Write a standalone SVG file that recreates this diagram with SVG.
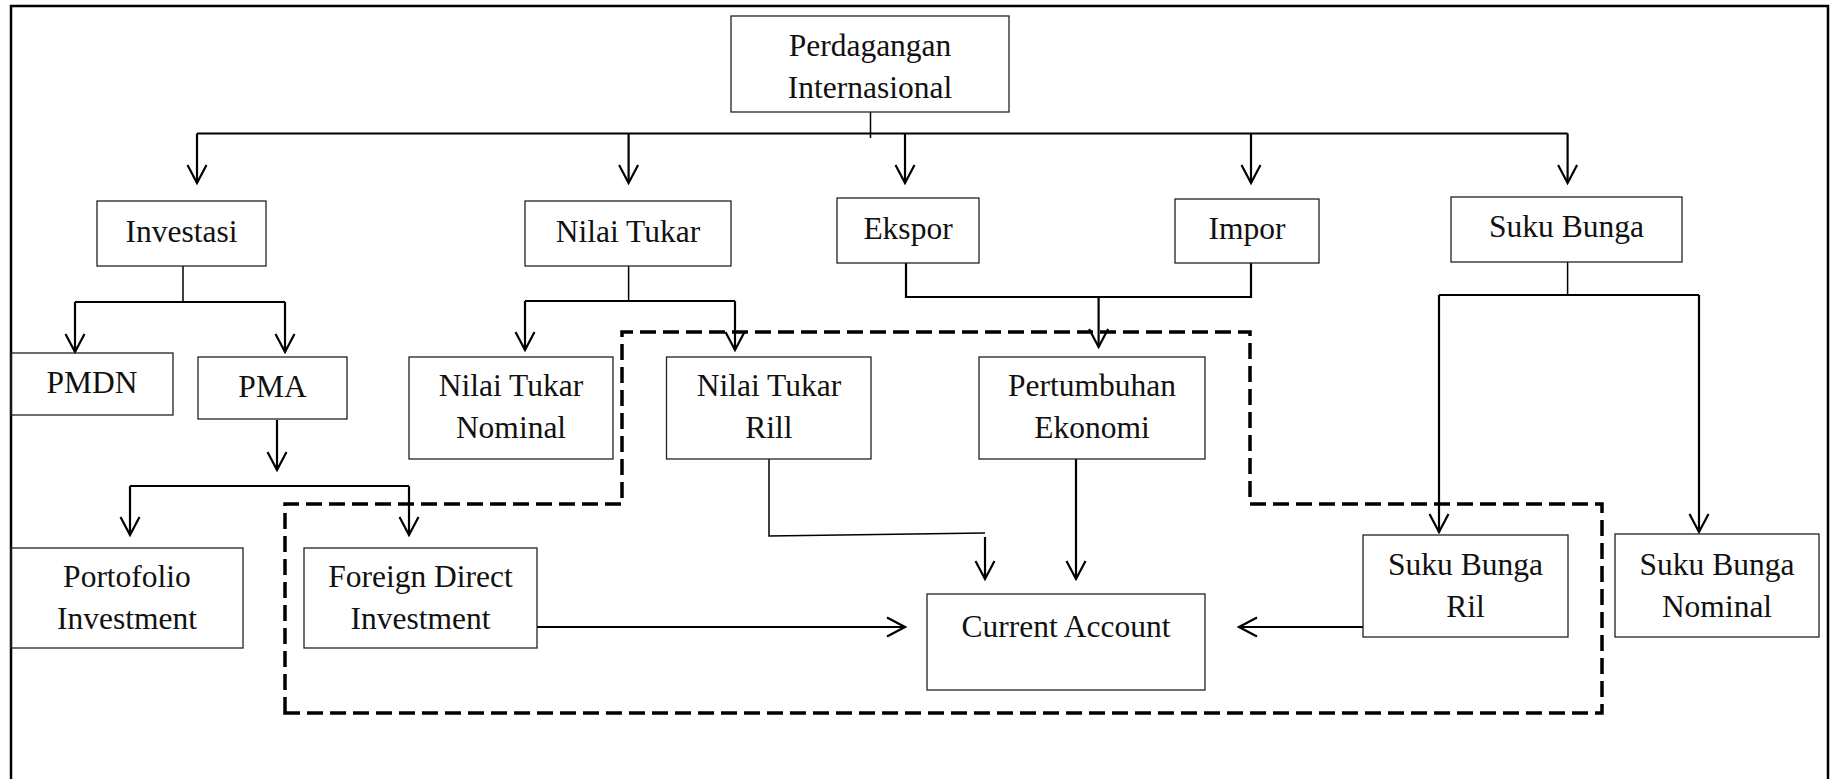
<svg xmlns="http://www.w3.org/2000/svg" width="1831" height="779" viewBox="0 0 1831 779">
<style>
  .box { fill: none; stroke: #222; stroke-width: 1.3; }
  .t { font-family: "Liberation Serif", "Times New Roman", serif; font-size: 31.5px; fill: #111; text-anchor: middle; }
  .ln { fill: none; stroke: #000; stroke-width: 2.2; }
  .thin { fill: none; stroke: #000; stroke-width: 1.5; }
  .arr { fill: none; stroke: #000; stroke-width: 2.2; marker-end: url(#ah); }
  .dash { fill: none; stroke: #000; stroke-width: 3.5; stroke-dasharray: 16 7; }
</style>
<defs>
  <marker id="ah" markerUnits="userSpaceOnUse" viewBox="-20 -11 22 22" refX="0" refY="0" markerWidth="22" markerHeight="22" orient="auto">
    <path d="M-18,-9.5 L0,0 L-18,9.5" fill="none" stroke="#000" stroke-width="2.2"/>
  </marker>
</defs>
<rect x="0" y="0" width="1831" height="779" fill="#fff"/>
<rect x="11" y="6" width="1817" height="800" fill="none" stroke="#000" stroke-width="2.5"/>

<g id="connectors">
  <!-- from Perdagangan Internasional -->
  <line class="thin" x1="870.5" y1="112" x2="870.5" y2="138"/>
  <line class="ln" x1="197" y1="133.5" x2="1567.6" y2="133.5"/>
  <line class="arr" x1="197" y1="133.5" x2="197" y2="183"/>
  <line class="arr" x1="628.6" y1="133.5" x2="628.6" y2="183"/>
  <line class="arr" x1="905" y1="133.5" x2="905" y2="183"/>
  <line class="arr" x1="1251" y1="133.5" x2="1251" y2="183"/>
  <line class="arr" x1="1567.6" y1="133.5" x2="1567.6" y2="183"/>
  <!-- Investasi -->
  <line class="thin" x1="183" y1="266" x2="183" y2="302"/>
  <line class="ln" x1="75" y1="302" x2="285" y2="302"/>
  <line class="arr" x1="75" y1="302" x2="75" y2="352"/>
  <line class="arr" x1="285" y1="302" x2="285" y2="352"/>
  <!-- PMA -->
  <line class="arr" x1="277" y1="420" x2="277" y2="470"/>
  <line class="ln" x1="130" y1="486" x2="409" y2="486"/>
  <line class="arr" x1="130" y1="486" x2="130" y2="535"/>
  <line class="arr" x1="409" y1="486" x2="409" y2="535"/>
  <!-- Nilai Tukar -->
  <line class="thin" x1="628.6" y1="266" x2="628.6" y2="301"/>
  <line class="ln" x1="525" y1="301" x2="735" y2="301"/>
  <line class="arr" x1="525" y1="301" x2="525" y2="350"/>
  <line class="arr" x1="735" y1="301" x2="735" y2="350"/>
  <!-- Ekspor / Impor -->
  <polyline class="ln" points="906,263 906,297 1251,297 1251,263"/>
  <line class="arr" x1="1098.6" y1="297" x2="1098.6" y2="347"/>
  <!-- Suku Bunga -->
  <line class="thin" x1="1567.6" y1="262" x2="1567.6" y2="295"/>
  <line class="ln" x1="1439" y1="295" x2="1699" y2="295"/>
  <line class="arr" x1="1439" y1="295" x2="1439" y2="532"/>
  <line class="arr" x1="1699" y1="295" x2="1699" y2="532"/>
  <!-- to Current Account -->
  <polyline class="thin" points="769,459 769,536 985,533"/>
  <line class="arr" x1="985" y1="537" x2="985" y2="579"/>
  <line class="arr" x1="1076" y1="459" x2="1076" y2="579"/>
  <line class="arr" x1="537" y1="627" x2="905" y2="627"/>
  <line class="arr" x1="1363" y1="627" x2="1239" y2="627"/>
  <!-- dashed boundary -->
  <path class="dash" d="M285,713 L285,504 L622,504 L622,332 L1250,332 L1250,504 L1602,504 L1602,713 Z"/>
</g>

<g id="n-perdagangan">
  <rect class="box" x="731" y="16" width="278" height="96"/>
  <text class="t" x="870" y="56">Perdagangan</text>
  <text class="t" x="870" y="98">Internasional</text>
</g>
<g id="n-investasi">
  <rect class="box" x="97" y="201" width="169" height="65"/>
  <text class="t" x="181.5" y="242">Investasi</text>
</g>
<g id="n-nilaitukar">
  <rect class="box" x="525" y="201" width="206" height="65"/>
  <text class="t" x="628" y="242">Nilai Tukar</text>
</g>
<g id="n-ekspor">
  <rect class="box" x="837" y="198" width="142" height="65"/>
  <text class="t" x="908" y="239">Ekspor</text>
</g>
<g id="n-impor">
  <rect class="box" x="1175" y="199" width="144" height="64"/>
  <text class="t" x="1247" y="239">Impor</text>
</g>
<g id="n-sukubunga">
  <rect class="box" x="1451" y="197" width="231" height="65"/>
  <text class="t" x="1566.5" y="237">Suku Bunga</text>
</g>
<g id="n-pmdn">
  <rect class="box" x="11" y="353" width="162" height="62"/>
  <text class="t" x="92" y="393">PMDN</text>
</g>
<g id="n-pma">
  <rect class="box" x="198" y="357" width="149" height="62"/>
  <text class="t" x="272.5" y="397">PMA</text>
</g>
<g id="n-ntnominal">
  <rect class="box" x="409" y="357" width="204" height="102"/>
  <text class="t" x="511" y="396">Nilai Tukar</text>
  <text class="t" x="511" y="438">Nominal</text>
</g>
<g id="n-ntrill">
  <rect class="box" x="666.5" y="357" width="204.5" height="102"/>
  <text class="t" x="769" y="396">Nilai Tukar</text>
  <text class="t" x="769" y="438">Rill</text>
</g>
<g id="n-pertumbuhan">
  <rect class="box" x="979" y="357" width="226" height="102"/>
  <text class="t" x="1092" y="396">Pertumbuhan</text>
  <text class="t" x="1092" y="438">Ekonomi</text>
</g>
<g id="n-portofolio">
  <rect class="box" x="11" y="548" width="232" height="100"/>
  <text class="t" x="127" y="587">Portofolio</text>
  <text class="t" x="127" y="629">Investment</text>
</g>
<g id="n-fdi">
  <rect class="box" x="304" y="548" width="233" height="100"/>
  <text class="t" x="420.5" y="587">Foreign Direct</text>
  <text class="t" x="420.5" y="629">Investment</text>
</g>
<g id="n-currentaccount">
  <rect class="box" x="927" y="594" width="278" height="96"/>
  <text class="t" x="1066" y="637">Current Account</text>
</g>
<g id="n-sbril">
  <rect class="box" x="1363" y="535" width="205" height="102"/>
  <text class="t" x="1465.5" y="575">Suku Bunga</text>
  <text class="t" x="1465.5" y="617">Ril</text>
</g>
<g id="n-sbnominal">
  <rect class="box" x="1615" y="534" width="204" height="103"/>
  <text class="t" x="1717" y="575">Suku Bunga</text>
  <text class="t" x="1717" y="617">Nominal</text>
</g>
</svg>
